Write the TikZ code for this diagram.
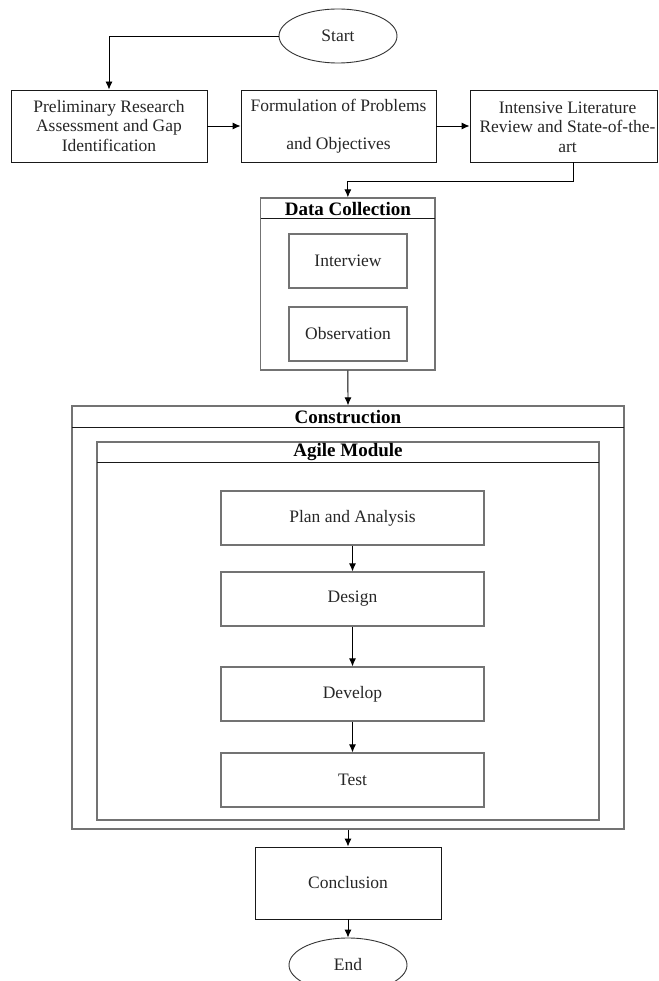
\documentclass[tikz,border=0pt]{standalone}
\usepackage{fontspec}
\setmainfont{Liberation Serif}
\usetikzlibrary{shapes.geometric,arrows.meta}
\begin{document}
\begin{tikzpicture}[x=1pt,y=-1pt,
  every node/.style={font=\fontsize{17.5}{19.5}\selectfont, text=black!85},
  box/.style={draw=black!90, line width=0.9pt, rectangle, inner sep=0pt, align=center},
  inbox/.style={draw=black!55, line width=1.2pt, rectangle, inner sep=0pt, align=center},
  frame/.style={draw=black!55, line width=1.3pt, rectangle, inner sep=0pt},
  hline/.style={draw=black!90, line width=1pt},
  oval/.style={draw=black!80, line width=0.9pt, ellipse, inner sep=0pt},
  title/.style={font=\fontsize{19}{21}\selectfont\bfseries, text=black},
  arr/.style={draw=black, line width=0.9pt, -{Latex[length=8pt,width=7pt]}}
]
\useasboundingbox (0,0) rectangle (658,981);
\clip (0,0) rectangle (658,981);

% top row
\node[oval, minimum width=118pt, minimum height=54pt] (start) at (338,36) {Start};
\node[box, minimum width=196pt, minimum height=72pt] (b1) at (109,126)
  {Preliminary Research\\Assessment and Gap\\Identification};
\node[box, minimum width=195pt, minimum height=72pt] (b2) at (338.5,126)
  {Formulation of Problems\\[18pt]and Objectives};
\node[box, minimum width=187pt, minimum height=72pt] (b3) at (563.5,126) {};
\node[align=center] (b3t) at (567.5,127)
  {Intensive Literature\\Review and State-of-the-\\art};

% data collection
\node[frame, minimum width=174.3pt, minimum height=172pt] (dc) at (347.85,284) {};
\coordinate (dcl) at (260.7,219);
\coordinate (dcr) at (435,219);
\draw[hline] (dcl) -- (dcr);
\node[title] (dct) at (347.85,209) {Data Collection};
\node[inbox, minimum width=118pt, minimum height=54pt] (iv) at (348,261) {Interview};
\node[inbox, minimum width=118pt, minimum height=54pt] (ob) at (348,334) {Observation};

% construction
\node[frame, minimum width=552pt, minimum height=423pt] (con) at (348,617.5) {};
\coordinate (conl) at (72,427);
\coordinate (conr) at (624,427);
\draw[hline] (conl) -- (conr);
\node[title] (cont) at (348,417) {Construction};

\node[frame, minimum width=502pt, minimum height=378pt] (ag) at (348,631) {};
\coordinate (agl) at (97,462);
\coordinate (agr) at (599,462);
\draw[hline] (agl) -- (agr);
\node[title] (agt) at (348,452.5) {Agile Module};

\node[inbox, minimum width=263pt, minimum height=54pt] (plan) at (352.5,518) {Plan and Analysis};
\node[inbox, minimum width=263pt, minimum height=54pt] (des) at (352.5,599) {Design};
\node[inbox, minimum width=263pt, minimum height=54pt] (dev) at (352.5,694) {Develop};
\node[inbox, minimum width=263pt, minimum height=54pt] (tst) at (352.5,780) {Test};

% end part
\node[box, minimum width=186pt, minimum height=72pt] (conc) at (348,883) {Conclusion};
\node[oval, minimum width=118pt, minimum height=54pt] (endn) at (348,965) {End};

% connectors
\draw[arr] (start.west) -| (b1.north);
\draw[arr] (b1.east) -- (b2.west);
\draw[arr] (b2.east) -- (b3.west);
\coordinate (turn1) at (573,181);
\draw[arr] (b3.south -| turn1) -- (turn1) -| (dc.north);
\draw[arr] (dc.south) -- (con.north);
\draw[arr] (plan.south) -- (des.north);
\draw[arr] (des.south) -- (dev.north);
\draw[arr] (dev.south) -- (tst.north);
\draw[arr] (con.south) -- (conc.north);
\draw[arr] (conc.south) -- (endn.north);
\end{tikzpicture}
\end{document}
